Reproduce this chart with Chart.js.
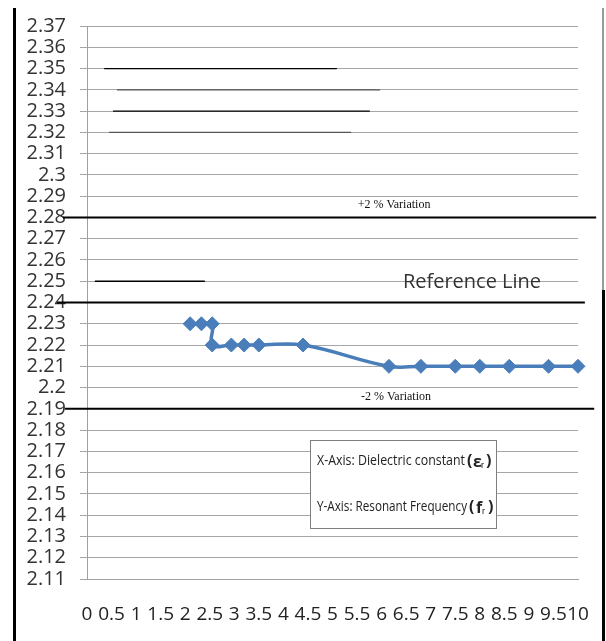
<!DOCTYPE html>
<html><head><meta charset="utf-8">
<script src="https://cdn.jsdelivr.net/npm/chart.js@4.4.1/dist/chart.umd.min.js"></script>
<style>html,body{margin:0;padding:0;background:#fff;}#wrap{position:relative;width:606px;height:641px;}</style>
</head><body><div id="wrap"><canvas id="c"></canvas></div>
<script>
// Series: Dielectric constant (x) vs Resonant frequency (y)
const dielectric   = [2.1, 2.33, 2.55, 2.55, 2.94, 3.2, 3.5, 4.4, 6.15, 6.8, 7.5, 8.0, 8.6, 9.4, 10.0];
const resonantFreq = [2.23, 2.23, 2.23, 2.22, 2.22, 2.22, 2.22, 2.22, 2.21, 2.21, 2.21, 2.21, 2.21, 2.21, 2.21];
// Heavy horizontal reference lines (+2 %, reference, -2 %)
const refLevels = [2.28, 2.24, 2.19];
const refStarts = [-0.49, -0.61, -0.45];
const refEnds   = [10.37, 10.14, 10.33];
// Thin stray lines
const stubLevels = [2.35, 2.34, 2.33, 2.32, 2.25];
const stubStarts = [0.35, 0.61, 0.53, 0.45, 0.16];
const stubEnds   = [5.09, 5.97, 5.76, 5.38, 2.40];
// Tick labels
const xTickLabels = ['0','0.5','1','1.5','2','2.5','3','3.5','4','4.5','5','5.5','6','6.5','7','7.5','8','8.5','9','9.5','10'];
const yTickLabels = ['2.11','2.12','2.13','2.14','2.15','2.16','2.17','2.18','2.19','2.2','2.21','2.22','2.23','2.24','2.25','2.26','2.27','2.28','2.29','2.3','2.31','2.32','2.33','2.34','2.35','2.36','2.37'];

const datasets = [{
  data: dielectric.map((x, i) => ({x, y: resonantFreq[i]})),
  showLine: true, tension: 0.4,
  borderColor: '#4a7ebb', backgroundColor: '#4a7ebb', borderWidth: 3.5,
  pointStyle: 'rectRot', pointRadius: 7, pointBorderWidth: 1, pointBorderColor: '#4a7ebb',
  clip: false
}];
refLevels.forEach((lv, i) => datasets.push({
  data: [{x: refStarts[i], y: lv}, {x: refEnds[i], y: lv}],
  showLine: true, borderColor: '#000', borderWidth: 2, pointRadius: 0, clip: false
}));
const stubColors = ['#000', '#555', '#000', '#555', '#000'];
stubLevels.forEach((lv, i) => datasets.push({
  data: [{x: stubStarts[i], y: lv}, {x: stubEnds[i], y: lv}],
  showLine: true, borderColor: stubColors[i], borderWidth: 1.3, pointRadius: 0, clip: false
}));

const deco = {
  id: 'deco',
  afterDraw(chart) {
    const ctx = chart.ctx;
    ctx.save();
    // frame bars
    ctx.fillStyle = '#000';
    ctx.fillRect(13, 8, 3, 633);
    ctx.fillStyle = '#9a9a9a';
    ctx.fillRect(602, 8, 2, 282);
    ctx.fillStyle = '#000';
    ctx.fillRect(602, 290, 3, 351);
    // legend-like box
    ctx.fillStyle = '#fff';
    ctx.fillRect(310, 440, 186, 88);
    ctx.strokeStyle = '#7f7f7f';
    ctx.lineWidth = 1;
    ctx.strokeRect(310.5, 440.5, 186, 88);
    ctx.fillStyle = '#222';
    ctx.textBaseline = 'middle';
    ctx.textAlign = 'left';
    ctx.font = '15px "Liberation Sans Narrow", "Open Sans", sans-serif';
    ctx.fillText('X-Axis: Dielectric constant', 317, 461, 148);
    ctx.fillText('Y-Axis: Resonant Frequency', 317, 507, 150);
    ctx.font = 'bold 16px "Liberation Sans Narrow", "Open Sans", sans-serif';
    ctx.fillText('(', 467, 461);
    ctx.fillText('ε', 473, 462);
    ctx.fillText(')', 486, 461);
    ctx.fillText('(', 469, 507);
    ctx.fillText('f', 476, 508);
    ctx.fillText(')', 488, 507);
    ctx.font = '9px "Liberation Sans Narrow", sans-serif';
    ctx.fillText('r', 481, 466);
    ctx.fillText('r', 482, 512);
    // annotations
    ctx.fillStyle = '#111';
    ctx.textAlign = 'center';
    ctx.font = '12px "Liberation Serif", "DejaVu Serif", serif';
    ctx.fillText('+2 % Variation', 394, 205, 88);
    ctx.fillText('-2 % Variation', 396, 397, 86);
    ctx.fillStyle = '#333';
    ctx.font = '20px "Open Sans", sans-serif';
    ctx.fillText('Reference Line', 472, 282, 153);
    ctx.restore();
  }
};

new Chart(document.getElementById('c'), {
  type: 'scatter',
  data: { datasets },
  options: {
    responsive: true, maintainAspectRatio: false, animation: false,
    layout: { padding: { left: 0, top: 21, right: 28, bottom: 0 } },
    plugins: { legend: { display: false }, tooltip: { enabled: false } },
    scales: {
      x: {
        type: 'linear', min: 0, max: 10,
        afterFit(s) { s.height = 62; },
        grid: { display: false, drawTicks: true, tickLength: 7, tickColor: '#a0a0a0' },
        border: { display: true, color: '#a0a0a0', width: 1 },
        ticks: {
          stepSize: 0.5, autoSkip: false, maxRotation: 0, minRotation: 0, padding: 17,
          color: '#222', font: { family: '"Liberation Sans Narrow", "Open Sans", sans-serif', size: 19 },
          callback: (v) => xTickLabels[Math.round(v / 0.5)]
        }
      },
      y: {
        type: 'linear', min: 2.11, max: 2.37,
        afterFit(s) { s.width = 87; },
        grid: { color: '#a6a6a6', lineWidth: 1, tickLength: 7, tickColor: '#a6a6a6' },
        border: { display: true, color: '#a0a0a0', width: 1 },
        ticks: {
          stepSize: 0.01, autoSkip: false, maxTicksLimit: 100, padding: 14,
          color: '#333', font: { family: '"Open Sans", sans-serif', size: 20 },
          callback: (v) => yTickLabels[Math.round((v - 2.11) / 0.01)]
        }
      }
    }
  },
  plugins: [deco]
});
</script></body></html>
